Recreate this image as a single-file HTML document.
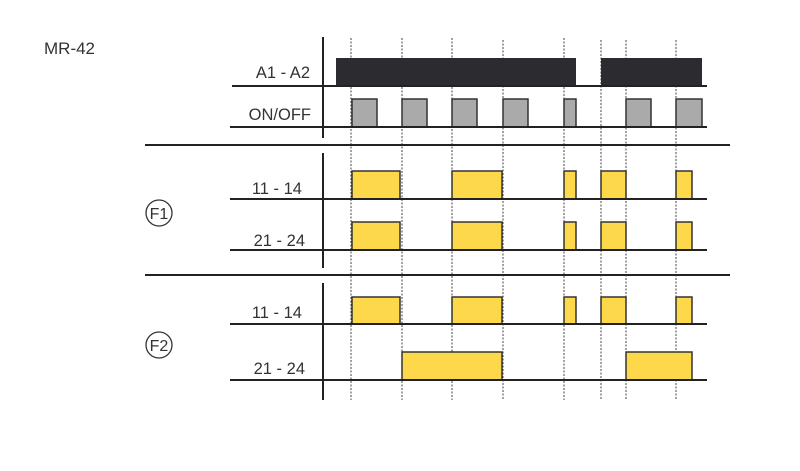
<!DOCTYPE html>
<html><head><style>body{margin:0;background:#fff}</style></head><body>
<svg width="800" height="466" xmlns="http://www.w3.org/2000/svg" font-family="Liberation Sans, sans-serif" fill="#333">
<rect width="800" height="466" fill="#fff"/>
<text x="44" y="54" font-size="17" fill="#333">MR-42</text>
<g stroke="#444" stroke-width="1" stroke-dasharray="2,1.5">
<line x1="351" y1="38" x2="351" y2="400"/><line x1="402" y1="38" x2="402" y2="400"/>
<line x1="452" y1="38" x2="452" y2="400"/><line x1="503" y1="40" x2="503" y2="400"/>
<line x1="564" y1="38" x2="564" y2="400"/><line x1="601" y1="40" x2="601" y2="400"/>
<line x1="626" y1="40" x2="626" y2="400"/><line x1="676" y1="40" x2="676" y2="400"/>
</g>
<g stroke="#222" stroke-width="2">
<line x1="323" y1="37" x2="323" y2="138"/><line x1="323" y1="153" x2="323" y2="268"/><line x1="323" y1="283" x2="323" y2="400"/>
<line x1="145" y1="145" x2="730" y2="145"/><line x1="145" y1="275" x2="730" y2="275"/>
</g>
<rect x="336" y="58" width="240" height="28" fill="#2b2b30"/>
<rect x="601" y="58" width="101" height="28" fill="#2b2b30"/>
<g fill="#aaa" stroke="#333" stroke-width="1.5">
<rect x="352" y="99" width="25" height="28"/><rect x="402" y="99" width="25" height="28"/>
<rect x="452" y="99" width="25" height="28"/><rect x="503" y="99" width="25" height="28"/>
<rect x="564" y="99" width="12" height="28"/><rect x="626" y="99" width="25" height="28"/>
<rect x="676" y="99" width="26" height="28"/>
</g>
<g fill="#fdd84a" stroke="#333" stroke-width="1.5">
<rect x="352" y="171" width="48" height="28"/><rect x="452" y="171" width="50" height="28"/><rect x="564" y="171" width="12" height="28"/><rect x="601" y="171" width="25" height="28"/><rect x="676" y="171" width="16" height="28"/>
<rect x="352" y="222" width="48" height="28"/><rect x="452" y="222" width="50" height="28"/><rect x="564" y="222" width="12" height="28"/><rect x="601" y="222" width="25" height="28"/><rect x="676" y="222" width="16" height="28"/>
<rect x="352" y="297" width="48" height="27"/><rect x="452" y="297" width="50" height="27"/><rect x="564" y="297" width="12" height="27"/><rect x="601" y="297" width="25" height="27"/><rect x="676" y="297" width="16" height="27"/>
<rect x="402" y="352" width="100" height="28"/><rect x="626" y="352" width="66" height="28"/>
</g>
<g stroke="#222" stroke-width="2">
<line x1="232" y1="86" x2="707" y2="86"/><line x1="230" y1="127" x2="707" y2="127"/>
<line x1="230" y1="199" x2="707" y2="199"/><line x1="230" y1="250" x2="707" y2="250"/>
<line x1="230" y1="324" x2="707" y2="324"/><line x1="230" y1="380" x2="707" y2="380"/>
</g>
<g font-size="16.5" text-anchor="end" fill="#333">
<text x="310" y="78">A1 - A2</text><text x="311" y="120">ON/OFF</text>
<text x="302" y="194">11 - 14</text><text x="305" y="246">21 - 24</text>
<text x="302" y="318">11 - 14</text><text x="305" y="374">21 - 24</text>
</g>
<circle cx="159" cy="213" r="13" fill="none" stroke="#333" stroke-width="1.3"/>
<text x="159" y="219" font-size="16" text-anchor="middle">F1</text>
<circle cx="159" cy="345" r="13" fill="none" stroke="#333" stroke-width="1.3"/>
<text x="159" y="351" font-size="16" text-anchor="middle">F2</text>
</svg>
</body></html>
